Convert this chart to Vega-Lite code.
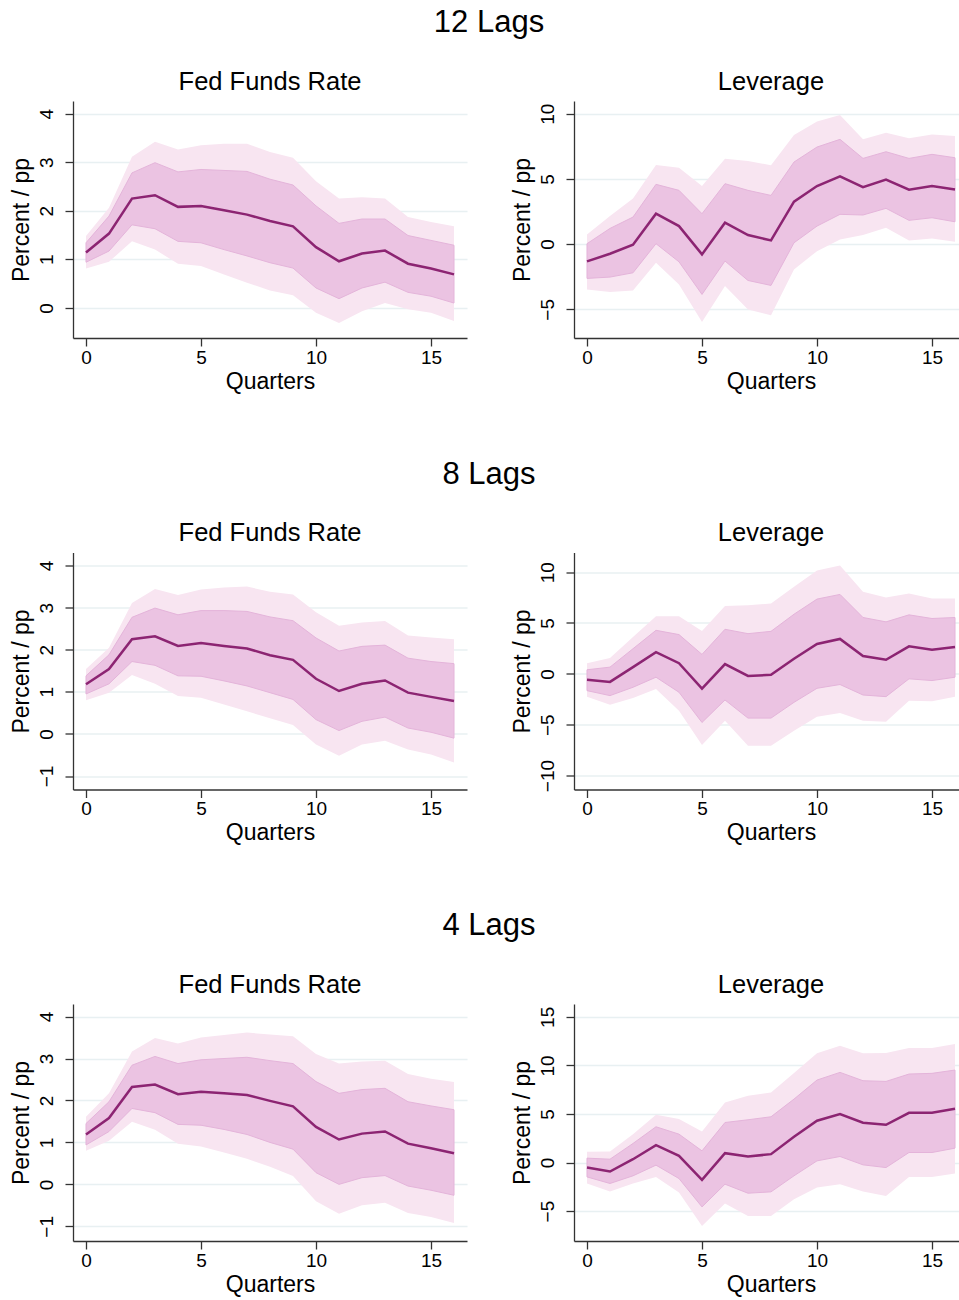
{
"$schema": "https://vega.github.io/schema/vega-lite/v6.json",
"padding": {"left": 10, "top": 7, "right": 0, "bottom": 5},
"background": "white",
"config": {
 "view": {"stroke": null},
 "font": "Liberation Sans",
 "title": {"font": "Liberation Sans", "fontWeight": "normal", "color": "#000"},
 "axis": {"domainColor": "#333", "domainWidth": 1.3, "tickColor": "#333", "tickWidth": 1.3, "tickSize": 8,
   "labelFont": "Liberation Sans", "labelFontSize": 19, "labelColor": "#000",
   "titleFont": "Liberation Sans", "titleFontSize": 23, "titleFontWeight": "normal", "titleColor": "#000",
   "gridColor": "#e8f0f2", "gridWidth": 1.5},
 "axisX": {"grid": false, "labelPadding": 2, "titlePadding": 3, "labelFlush": false},
 "axisY": {"grid": true, "labelAngle": -90, "labelAlign": "center", "labelBaseline": "bottom", "labelPadding": 9, "titlePadding": 4}
},
"datasets": {
 "p12f": [
  {"q":0,"m":1.14,"h1":1.34,"l1":0.94,"h2":1.48,"l2":0.81},
  {"q":1,"m":1.53,"h1":1.89,"l1":1.17,"h2":2.06,"l2":0.95},
  {"q":2,"m":2.25,"h1":2.78,"l1":1.71,"h2":3.11,"l2":1.37},
  {"q":3,"m":2.32,"h1":2.99,"l1":1.63,"h2":3.42,"l2":1.20},
  {"q":4,"m":2.08,"h1":2.80,"l1":1.37,"h2":3.26,"l2":0.91},
  {"q":5,"m":2.10,"h1":2.85,"l1":1.34,"h2":3.35,"l2":0.86},
  {"q":6,"m":2.01,"h1":2.83,"l1":1.20,"h2":3.38,"l2":0.69},
  {"q":7,"m":1.92,"h1":2.81,"l1":1.07,"h2":3.38,"l2":0.52},
  {"q":8,"m":1.79,"h1":2.65,"l1":0.93,"h2":3.21,"l2":0.36},
  {"q":9,"m":1.68,"h1":2.53,"l1":0.82,"h2":3.09,"l2":0.26},
  {"q":10,"m":1.25,"h1":2.10,"l1":0.41,"h2":2.61,"l2":-0.10},
  {"q":11,"m":0.96,"h1":1.74,"l1":0.19,"h2":2.25,"l2":-0.31},
  {"q":12,"m":1.12,"h1":1.83,"l1":0.41,"h2":2.28,"l2":-0.07},
  {"q":13,"m":1.18,"h1":1.83,"l1":0.53,"h2":2.25,"l2":0.10},
  {"q":14,"m":0.91,"h1":1.49,"l1":0.32,"h2":1.87,"l2":-0.03},
  {"q":15,"m":0.81,"h1":1.39,"l1":0.24,"h2":1.77,"l2":-0.10},
  {"q":16,"m":0.69,"h1":1.29,"l1":0.10,"h2":1.68,"l2":-0.27}
 ],
 "p12l": [
  {"q":0,"m":-1.33,"h1":0.03,"l1":-2.63,"h2":0.74,"l2":-3.48},
  {"q":1,"m":-0.74,"h1":1.2,"l1":-2.53,"h2":2.15,"l2":-3.68},
  {"q":2,"m":-0.05,"h1":2.07,"l1":-2.2,"h2":3.5,"l2":-3.55},
  {"q":3,"m":2.33,"h1":4.58,"l1":0.03,"h2":6.06,"l2":-1.43},
  {"q":4,"m":1.38,"h1":4.12,"l1":-1.36,"h2":5.86,"l2":-3.1},
  {"q":5,"m":-0.79,"h1":2.33,"l1":-3.86,"h2":4.45,"l2":-5.98},
  {"q":6,"m":1.64,"h1":4.63,"l1":-1.30,"h2":6.55,"l2":-3.22},
  {"q":7,"m":0.69,"h1":4.12,"l1":-2.79,"h2":6.37,"l2":-5.01},
  {"q":8,"m":0.28,"h1":3.73,"l1":-3.17,"h2":6.04,"l2":-5.45},
  {"q":9,"m":3.25,"h1":6.29,"l1":0.10,"h2":8.36,"l2":-1.94},
  {"q":10,"m":4.45,"h1":7.44,"l1":1.38,"h2":9.39,"l2":-0.54},
  {"q":11,"m":5.19,"h1":8.03,"l1":2.28,"h2":9.9,"l2":0.36},
  {"q":12,"m":4.37,"h1":6.57,"l1":2.23,"h2":8.03,"l2":0.69},
  {"q":13,"m":4.94,"h1":7.08,"l1":2.74,"h2":8.54,"l2":1.25},
  {"q":14,"m":4.17,"h1":6.57,"l1":1.82,"h2":8.11,"l2":0.28},
  {"q":15,"m":4.45,"h1":6.88,"l1":2.02,"h2":8.41,"l2":0.43},
  {"q":16,"m":4.19,"h1":6.62,"l1":1.71,"h2":8.29,"l2":0.18}
 ],
 "p8f": [
  {"q":0,"m":1.18,"h1":1.38,"l1":0.95,"h2":1.54,"l2":0.80},
  {"q":1,"m":1.54,"h1":1.88,"l1":1.19,"h2":2.05,"l2":0.98},
  {"q":2,"m":2.25,"h1":2.77,"l1":1.72,"h2":3.11,"l2":1.40},
  {"q":3,"m":2.32,"h1":2.99,"l1":1.63,"h2":3.44,"l2":1.19},
  {"q":4,"m":2.09,"h1":2.83,"l1":1.38,"h2":3.30,"l2":0.90},
  {"q":5,"m":2.16,"h1":2.93,"l1":1.37,"h2":3.43,"l2":0.86},
  {"q":6,"m":2.09,"h1":2.93,"l1":1.26,"h2":3.48,"l2":0.70},
  {"q":7,"m":2.03,"h1":2.91,"l1":1.14,"h2":3.50,"l2":0.54},
  {"q":8,"m":1.87,"h1":2.78,"l1":0.98,"h2":3.38,"l2":0.37},
  {"q":9,"m":1.76,"h1":2.69,"l1":0.82,"h2":3.31,"l2":0.21},
  {"q":10,"m":1.31,"h1":2.28,"l1":0.34,"h2":2.89,"l2":-0.25},
  {"q":11,"m":1.02,"h1":1.97,"l1":0.08,"h2":2.57,"l2":-0.52},
  {"q":12,"m":1.19,"h1":2.08,"l1":0.30,"h2":2.65,"l2":-0.25},
  {"q":13,"m":1.27,"h1":2.11,"l1":0.40,"h2":2.68,"l2":-0.16},
  {"q":14,"m":0.98,"h1":1.80,"l1":0.14,"h2":2.34,"l2":-0.37},
  {"q":15,"m":0.88,"h1":1.72,"l1":0.04,"h2":2.29,"l2":-0.49},
  {"q":16,"m":0.78,"h1":1.67,"l1":-0.10,"h2":2.25,"l2":-0.68}
 ],
 "p8l": [
  {"q":0,"m":-0.59,"h1":0.40,"l1":-1.65,"h2":1.05,"l2":-2.24},
  {"q":1,"m":-0.79,"h1":0.66,"l1":-2.14,"h2":1.55,"l2":-3.03},
  {"q":2,"m":0.66,"h1":2.47,"l1":-1.32,"h2":3.62,"l2":-2.37},
  {"q":3,"m":2.14,"h1":4.28,"l1":-0.33,"h2":5.67,"l2":-1.48},
  {"q":4,"m":1.05,"h1":3.86,"l1":-1.81,"h2":5.67,"l2":-3.62},
  {"q":5,"m":-1.45,"h1":1.91,"l1":-4.78,"h2":4.22,"l2":-6.99},
  {"q":6,"m":0.96,"h1":4.38,"l1":-2.57,"h2":6.66,"l2":-4.61},
  {"q":7,"m":-0.20,"h1":3.95,"l1":-4.35,"h2":6.75,"l2":-7.08},
  {"q":8,"m":-0.10,"h1":4.18,"l1":-4.35,"h2":6.92,"l2":-7.08},
  {"q":9,"m":1.48,"h1":5.86,"l1":-2.80,"h2":8.57,"l2":-5.60},
  {"q":10,"m":2.93,"h1":7.35,"l1":-1.42,"h2":10.15,"l2":-4.22},
  {"q":11,"m":3.43,"h1":7.81,"l1":-1.05,"h2":10.64,"l2":-3.86},
  {"q":12,"m":1.75,"h1":5.54,"l1":-2.08,"h2":8.07,"l2":-4.61},
  {"q":13,"m":1.38,"h1":5.11,"l1":-2.24,"h2":7.51,"l2":-4.71},
  {"q":14,"m":2.70,"h1":5.80,"l1":-0.49,"h2":7.91,"l2":-2.64},
  {"q":15,"m":2.37,"h1":5.44,"l1":-0.66,"h2":7.41,"l2":-2.70},
  {"q":16,"m":2.64,"h1":5.54,"l1":-0.33,"h2":7.41,"l2":-2.24}
 ],
 "p4f": [
  {"q":0,"m":1.19,"h1":1.45,"l1":0.94,"h2":1.61,"l2":0.80},
  {"q":1,"m":1.58,"h1":1.97,"l1":1.26,"h2":2.17,"l2":1.04},
  {"q":2,"m":2.32,"h1":2.84,"l1":1.81,"h2":3.17,"l2":1.49},
  {"q":3,"m":2.38,"h1":3.05,"l1":1.71,"h2":3.49,"l2":1.30},
  {"q":4,"m":2.15,"h1":2.88,"l1":1.43,"h2":3.36,"l2":0.97},
  {"q":5,"m":2.21,"h1":2.97,"l1":1.41,"h2":3.50,"l2":0.90},
  {"q":6,"m":2.17,"h1":3.00,"l1":1.31,"h2":3.56,"l2":0.76},
  {"q":7,"m":2.13,"h1":3.03,"l1":1.19,"h2":3.62,"l2":0.61},
  {"q":8,"m":1.99,"h1":2.95,"l1":1.00,"h2":3.57,"l2":0.42},
  {"q":9,"m":1.86,"h1":2.88,"l1":0.84,"h2":3.53,"l2":0.20},
  {"q":10,"m":1.37,"h1":2.45,"l1":0.28,"h2":3.11,"l2":-0.40},
  {"q":11,"m":1.07,"h1":2.17,"l1":0.00,"h2":2.88,"l2":-0.70},
  {"q":12,"m":1.21,"h1":2.26,"l1":0.16,"h2":2.93,"l2":-0.50},
  {"q":13,"m":1.26,"h1":2.29,"l1":0.21,"h2":2.95,"l2":-0.44},
  {"q":14,"m":0.97,"h1":1.97,"l1":-0.04,"h2":2.63,"l2":-0.68},
  {"q":15,"m":0.86,"h1":1.87,"l1":-0.14,"h2":2.52,"l2":-0.78},
  {"q":16,"m":0.74,"h1":1.78,"l1":-0.26,"h2":2.44,"l2":-0.92}
 ],
 "p4l": [
  {"q":0,"m":-0.52,"h1":0.45,"l1":-1.48,"h2":1.10,"l2":-2.16},
  {"q":1,"m":-0.93,"h1":0.34,"l1":-2.16,"h2":1.13,"l2":-2.99},
  {"q":2,"m":0.34,"h1":1.96,"l1":-1.37,"h2":2.92,"l2":-2.16},
  {"q":3,"m":1.79,"h1":3.68,"l1":-0.27,"h2":4.91,"l2":-1.48},
  {"q":4,"m":0.69,"h1":2.92,"l1":-1.65,"h2":4.47,"l2":-3.09},
  {"q":5,"m":-1.79,"h1":1.20,"l1":-4.57,"h2":3.20,"l2":-6.53},
  {"q":6,"m":0.96,"h1":4.12,"l1":-2.23,"h2":6.19,"l2":-4.23},
  {"q":7,"m":0.62,"h1":4.40,"l1":-3.16,"h2":6.87,"l2":-5.50},
  {"q":8,"m":0.86,"h1":4.71,"l1":-3.02,"h2":7.22,"l2":-5.50},
  {"q":9,"m":2.65,"h1":6.53,"l1":-1.37,"h2":9.21,"l2":-3.78},
  {"q":10,"m":4.30,"h1":8.49,"l1":0.17,"h2":11.24,"l2":-2.58},
  {"q":11,"m":4.98,"h1":9.28,"l1":0.62,"h2":12.03,"l2":-2.23},
  {"q":12,"m":4.09,"h1":8.42,"l1":-0.24,"h2":11.24,"l2":-2.99},
  {"q":13,"m":3.88,"h1":8.35,"l1":-0.52,"h2":11.27,"l2":-3.44},
  {"q":14,"m":5.12,"h1":9.11,"l1":1.03,"h2":11.79,"l2":-1.48},
  {"q":15,"m":5.12,"h1":9.18,"l1":1.03,"h2":11.79,"l2":-1.48},
  {"q":16,"m":5.53,"h1":9.52,"l1":1.48,"h2":12.20,"l2":-1.13}
 ]
},
"spacing": 65.5,
"vconcat": [
 {"title": {"text": "12 Lags", "fontSize": 31, "anchor": "middle", "offset": 30.5},
  "spacing": 44,
  "hconcat": [
   {"width": 394, "height": 237, "data": {"name": "p12f"},
    "title": {"text": "Fed Funds Rate", "fontSize": 25.5, "offset": 6},
    "encoding": {"x": {"field": "q", "type": "quantitative", "scale": {"domain": [-0.565, 16.565], "nice": false, "zero": false}, "axis": {"values": [0,5,10,15], "title": "Quarters"}}},
    "layer": [
     {"mark": {"type": "area", "color": "#f8e5f1"}, "encoding": {"y": {"field": "l2", "type": "quantitative", "scale": {"domain": [-0.62, 4.26], "nice": false, "zero": false}, "axis": {"values": [0,1,2,3,4], "title": "Percent / pp"}}, "y2": {"field": "h2"}}},
     {"mark": {"type": "area", "color": "#ebc3e2", "stroke": "#e4b4da", "strokeWidth": 1}, "encoding": {"y": {"field": "l1", "type": "quantitative"}, "y2": {"field": "h1"}}},
     {"data": {"values": [{}]}, "mark": {"type": "rule", "color": "#000", "strokeWidth": 2}, "encoding": {"x": {"datum": 0}, "x2": {"datum": 16}, "y": {"datum": 0}}},
     {"mark": {"type": "line", "color": "#8c2472", "strokeWidth": 2.5}, "encoding": {"y": {"field": "m", "type": "quantitative"}}}
    ]},
   {"width": 394, "height": 237, "data": {"name": "p12l"},
    "title": {"text": "Leverage", "fontSize": 25.5, "offset": 6},
    "encoding": {"x": {"field": "q", "type": "quantitative", "scale": {"domain": [-0.565, 16.565], "nice": false, "zero": false}, "axis": {"values": [0,5,10,15], "title": "Quarters"}}},
    "layer": [
     {"mark": {"type": "area", "color": "#f8e5f1"}, "encoding": {"y": {"field": "l2", "type": "quantitative", "scale": {"domain": [-7.2, 10.97], "nice": false, "zero": false}, "axis": {"values": [-5,0,5,10], "title": "Percent / pp"}}, "y2": {"field": "h2"}}},
     {"mark": {"type": "area", "color": "#ebc3e2", "stroke": "#e4b4da", "strokeWidth": 1}, "encoding": {"y": {"field": "l1", "type": "quantitative"}, "y2": {"field": "h1"}}},
     {"data": {"values": [{}]}, "mark": {"type": "rule", "color": "#000", "strokeWidth": 2}, "encoding": {"x": {"datum": 0}, "x2": {"datum": 16}, "y": {"datum": 0}}},
     {"mark": {"type": "line", "color": "#8c2472", "strokeWidth": 2.5}, "encoding": {"y": {"field": "m", "type": "quantitative"}}}
    ]}
  ]},
 {"title": {"text": "8 Lags", "fontSize": 31, "anchor": "middle", "offset": 30.5},
  "spacing": 44,
  "hconcat": [
   {"width": 394, "height": 237, "data": {"name": "p8f"},
    "title": {"text": "Fed Funds Rate", "fontSize": 25.5, "offset": 6},
    "encoding": {"x": {"field": "q", "type": "quantitative", "scale": {"domain": [-0.565, 16.565], "nice": false, "zero": false}, "axis": {"values": [0,5,10,15], "title": "Quarters"}}},
    "layer": [
     {"mark": {"type": "area", "color": "#f8e5f1"}, "encoding": {"y": {"field": "l2", "type": "quantitative", "scale": {"domain": [-1.32, 4.31], "nice": false, "zero": false}, "axis": {"values": [-1,0,1,2,3,4], "title": "Percent / pp"}}, "y2": {"field": "h2"}}},
     {"mark": {"type": "area", "color": "#ebc3e2", "stroke": "#e4b4da", "strokeWidth": 1}, "encoding": {"y": {"field": "l1", "type": "quantitative"}, "y2": {"field": "h1"}}},
     {"data": {"values": [{}]}, "mark": {"type": "rule", "color": "#000", "strokeWidth": 2}, "encoding": {"x": {"datum": 0}, "x2": {"datum": 16}, "y": {"datum": 0}}},
     {"mark": {"type": "line", "color": "#8c2472", "strokeWidth": 2.5}, "encoding": {"y": {"field": "m", "type": "quantitative"}}}
    ]},
   {"width": 394, "height": 237, "data": {"name": "p8l"},
    "title": {"text": "Leverage", "fontSize": 25.5, "offset": 6},
    "encoding": {"x": {"field": "q", "type": "quantitative", "scale": {"domain": [-0.565, 16.565], "nice": false, "zero": false}, "axis": {"values": [0,5,10,15], "title": "Quarters"}}},
    "layer": [
     {"mark": {"type": "area", "color": "#f8e5f1"}, "encoding": {"y": {"field": "l2", "type": "quantitative", "scale": {"domain": [-11.37, 11.93], "nice": false, "zero": false}, "axis": {"values": [-10,-5,0,5,10], "title": "Percent / pp"}}, "y2": {"field": "h2"}}},
     {"mark": {"type": "area", "color": "#ebc3e2", "stroke": "#e4b4da", "strokeWidth": 1}, "encoding": {"y": {"field": "l1", "type": "quantitative"}, "y2": {"field": "h1"}}},
     {"data": {"values": [{}]}, "mark": {"type": "rule", "color": "#000", "strokeWidth": 2}, "encoding": {"x": {"datum": 0}, "x2": {"datum": 16}, "y": {"datum": 0}}},
     {"mark": {"type": "line", "color": "#8c2472", "strokeWidth": 2.5}, "encoding": {"y": {"field": "m", "type": "quantitative"}}}
    ]}
  ]},
 {"title": {"text": "4 Lags", "fontSize": 31, "anchor": "middle", "offset": 30.5},
  "spacing": 44,
  "hconcat": [
   {"width": 394, "height": 237, "data": {"name": "p4f"},
    "title": {"text": "Fed Funds Rate", "fontSize": 25.5, "offset": 6},
    "encoding": {"x": {"field": "q", "type": "quantitative", "scale": {"domain": [-0.565, 16.565], "nice": false, "zero": false}, "axis": {"values": [0,5,10,15], "title": "Quarters"}}},
    "layer": [
     {"mark": {"type": "area", "color": "#f8e5f1"}, "encoding": {"y": {"field": "l2", "type": "quantitative", "scale": {"domain": [-1.35, 4.30], "nice": false, "zero": false}, "axis": {"values": [-1,0,1,2,3,4], "title": "Percent / pp"}}, "y2": {"field": "h2"}}},
     {"mark": {"type": "area", "color": "#ebc3e2", "stroke": "#e4b4da", "strokeWidth": 1}, "encoding": {"y": {"field": "l1", "type": "quantitative"}, "y2": {"field": "h1"}}},
     {"data": {"values": [{}]}, "mark": {"type": "rule", "color": "#000", "strokeWidth": 2}, "encoding": {"x": {"datum": 0}, "x2": {"datum": 16}, "y": {"datum": 0}}},
     {"mark": {"type": "line", "color": "#8c2472", "strokeWidth": 2.5}, "encoding": {"y": {"field": "m", "type": "quantitative"}}}
    ]},
   {"width": 394, "height": 237, "data": {"name": "p4l"},
    "title": {"text": "Leverage", "fontSize": 25.5, "offset": 6},
    "encoding": {"x": {"field": "q", "type": "quantitative", "scale": {"domain": [-0.565, 16.565], "nice": false, "zero": false}, "axis": {"values": [0,5,10,15], "title": "Quarters"}}},
    "layer": [
     {"mark": {"type": "area", "color": "#f8e5f1"}, "encoding": {"y": {"field": "l2", "type": "quantitative", "scale": {"domain": [-8.08, 16.32], "nice": false, "zero": false}, "axis": {"values": [-5,0,5,10,15], "title": "Percent / pp"}}, "y2": {"field": "h2"}}},
     {"mark": {"type": "area", "color": "#ebc3e2", "stroke": "#e4b4da", "strokeWidth": 1}, "encoding": {"y": {"field": "l1", "type": "quantitative"}, "y2": {"field": "h1"}}},
     {"data": {"values": [{}]}, "mark": {"type": "rule", "color": "#000", "strokeWidth": 2}, "encoding": {"x": {"datum": 0}, "x2": {"datum": 16}, "y": {"datum": 0}}},
     {"mark": {"type": "line", "color": "#8c2472", "strokeWidth": 2.5}, "encoding": {"y": {"field": "m", "type": "quantitative"}}}
    ]}
  ]}
]
}
